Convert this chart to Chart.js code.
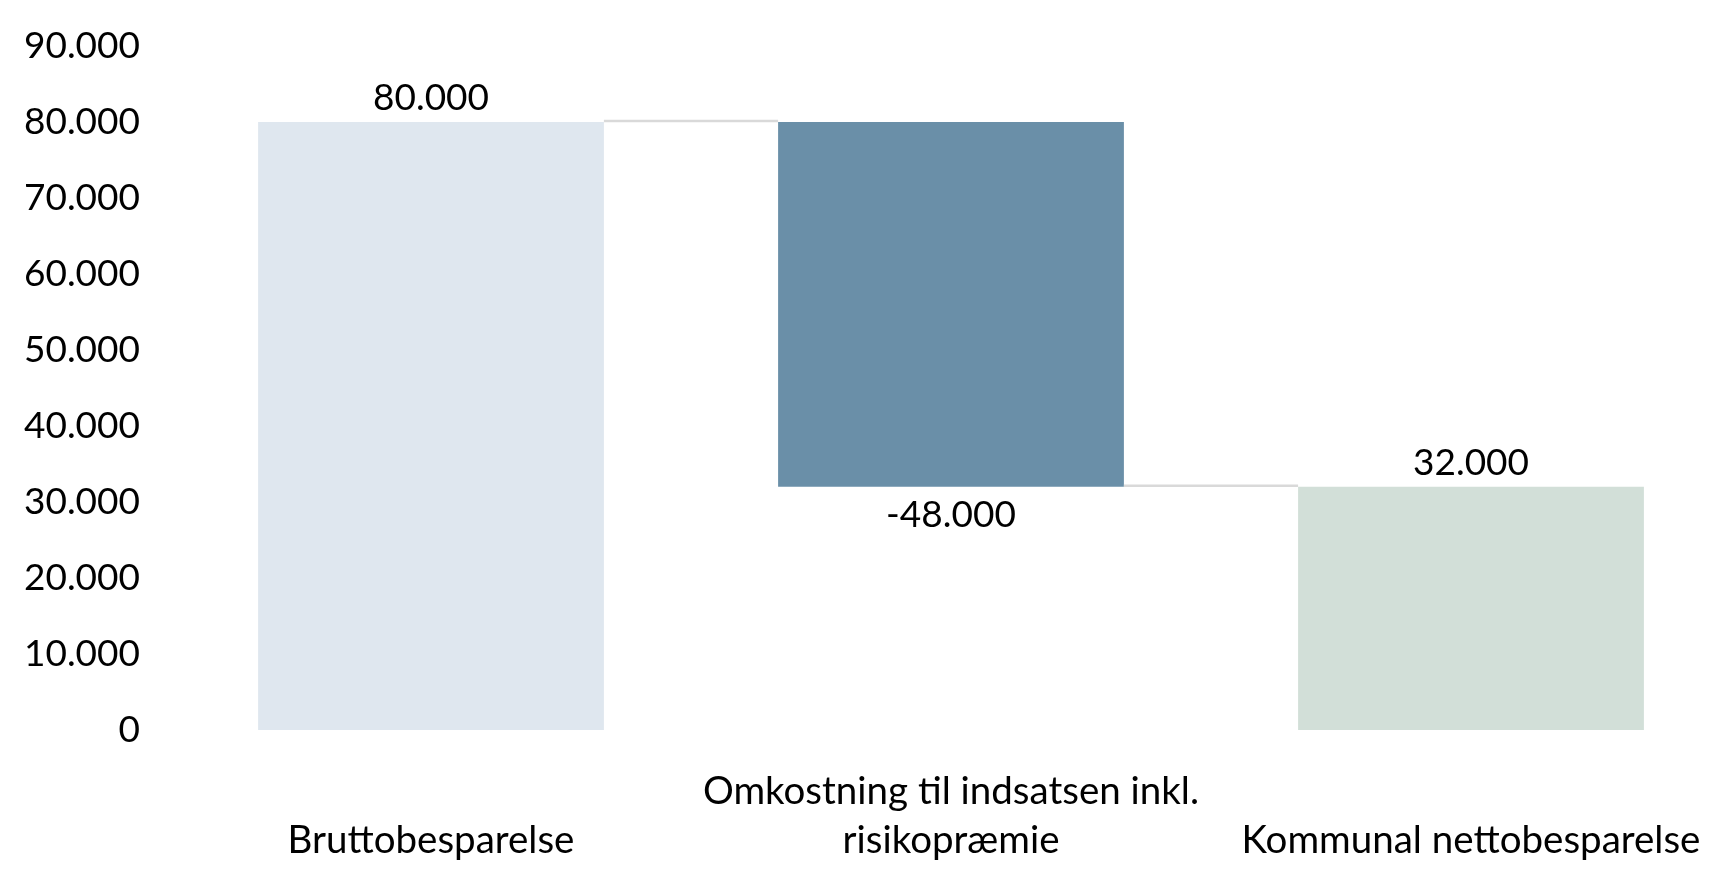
<!DOCTYPE html>
<html><head><meta charset="utf-8">
<script src="https://cdn.jsdelivr.net/npm/chart.js@4.4.1/dist/chart.umd.min.js"></script>
<style>html,body{margin:0;padding:0;background:#fff;}#wrap{width:1731px;height:881px;}</style>
</head><body><div id="wrap"><canvas id="c" width="1731" height="881"></canvas></div>
<script>
const categories = [['', 'Bruttobesparelse'], ['Omkostning til indsatsen inkl.', 'risikopræmie'], ['', 'Kommunal nettobesparelse']];
const changes = [80000, -48000, 32000];
const isTotal = [false, false, true];
const barColors = ['#dfe7ef', '#6a8fa8', '#d2dfd8'];
const yMin = 0, yMax = 90000, yStep = 10000;

const fmt = v => (v < 0 ? '-' : '') + String(Math.abs(v)).replace(/\B(?=(\d{3})+(?!\d))/g, '.');

// floating ranges built from the change values
const ranges = [];
const levels = [];
let run = 0;
changes.forEach((c, i) => {
  if (isTotal[i]) { ranges.push([0, c]); run = c; }
  else { ranges.push([run, run + c]); run += c; }
  levels.push(run);
});

const NUM_FONT = { family: 'Lato', size: 37, lineHeight: 1.3 };
const CAT_FONT = { family: 'Lato', size: 38.5, lineHeight: 49 / 38.5 };

const waterfallPlugin = {
  id: 'waterfall',
  afterDatasetsDraw(chart) {
    const ctx = chart.ctx;
    const meta = chart.getDatasetMeta(0);
    const ys = chart.scales.y;
    ctx.save();
    // connectors
    ctx.strokeStyle = '#d9d9d9';
    ctx.lineWidth = 2.5;
    for (let i = 0; i < meta.data.length - 1; i++) {
      const a = meta.data[i], b = meta.data[i + 1];
      const y = ys.getPixelForValue(levels[i]) - 1;
      ctx.beginPath();
      ctx.moveTo(a.x + a.width / 2, y);
      ctx.lineTo(b.x - b.width / 2, y);
      ctx.stroke();
    }
    // value labels
    ctx.fillStyle = '#000';
    ctx.font = NUM_FONT.size + 'px ' + NUM_FONT.family;
    ctx.textAlign = 'center';
    ctx.textBaseline = 'alphabetic';
    meta.data.forEach((el, i) => {
      const top = Math.min(el.y, el.base), bottom = Math.max(el.y, el.base);
      if (changes[i] >= 0) ctx.fillText(fmt(changes[i]), el.x, top - 12);
      else ctx.fillText(fmt(changes[i]), el.x, bottom + 40);
    });
    ctx.restore();
  }
};

new Chart(document.getElementById('c'), {
  type: 'bar',
  data: {
    labels: categories,
    datasets: [{
      data: ranges,
      backgroundColor: barColors,
      borderWidth: 0,
      categoryPercentage: 1,
      barPercentage: 0.665
    }]
  },
  options: {
    responsive: false,
    animation: false,
    devicePixelRatio: 1,
    layout: { padding: { left: 0, right: 0, top: 46, bottom: 0 } },
    plugins: { legend: { display: false }, tooltip: { enabled: false } },
    scales: {
      x: {
        grid: { display: false, drawTicks: false },
        border: { display: false },
        ticks: { font: CAT_FONT, color: '#000', padding: 37, maxRotation: 0, autoSkip: false },
        afterFit(s) { s.height = 151; s.paddingLeft = 0; s.paddingRight = 0; }
      },
      y: {
        min: yMin, max: yMax,
        grid: { display: false, drawTicks: false },
        border: { display: false },
        ticks: { stepSize: yStep, font: NUM_FONT, color: '#000', padding: 31, callback: v => fmt(v) },
        afterFit(s) { s.width = 171; s.paddingTop = 0; s.paddingBottom = 0; }
      }
    }
  },
  plugins: [waterfallPlugin]
});
</script></body></html>
